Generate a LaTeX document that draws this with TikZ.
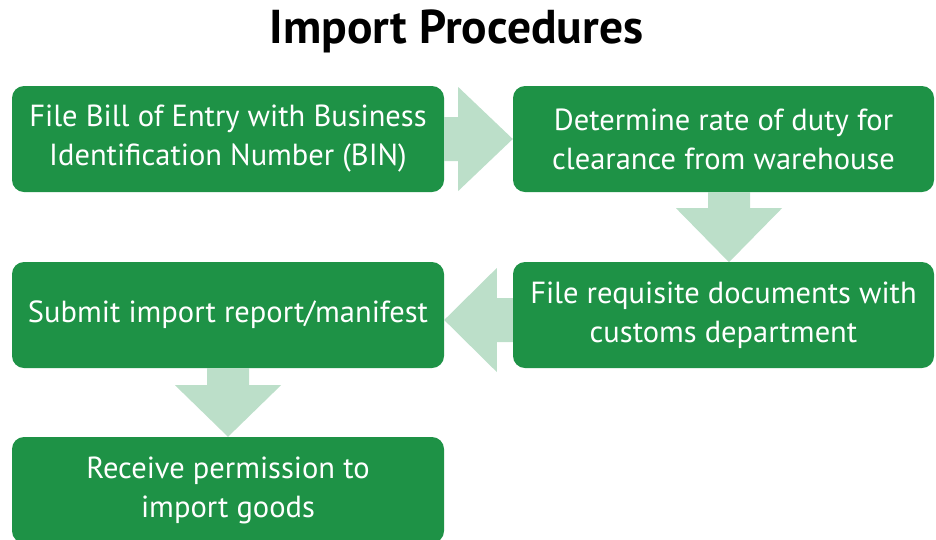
\documentclass[tikz,border=0pt]{standalone}
\usepackage{fontspec}
\setmainfont{PT Sans}
\usetikzlibrary{calc}
\definecolor{stepgreen}{RGB}{30,146,70}
\definecolor{flowgreen}{RGB}{188,223,201}
\begin{document}
\begin{tikzpicture}[x=1pt,y=-1pt,
  stepbox/.style={fill=stepgreen, rounded corners=12pt, text=white,
    align=center, inner sep=0pt, font=\fontsize{30.5}{39}\selectfont},
  flow/.style={fill=flowgreen, draw=none}]
\useasboundingbox (0,0) rectangle (936,539);
% title
\node (title) at (456.5,31) {\fontsize{47.5}{50}\selectfont\bfseries Import Procedures};
% procedure steps
\node[stepbox, minimum width=432pt, minimum height=106pt] (bill) at (228,139)
  {File Bill of Entry with Business\\Identification Number (BIN)};
\node[stepbox, minimum width=421pt, minimum height=106pt] (duty) at (723.5,139)
  {Determine rate of duty for\\clearance from warehouse};
\node[stepbox, minimum width=421pt, minimum height=106pt] (docs) at (723.5,315)
  {File requisite documents with\\customs department};
\node[stepbox, minimum width=432pt, minimum height=106pt] (report) at (228,315)
  {Submit import report/manifest};
\node[stepbox, minimum width=432pt, minimum height=106pt] (permit) at (228,490)
  {Receive permission to\\import goods};
% block arrows between the steps
\fill[flow] (bill.east) ++(0,-22) -- ++(14,0) -- ++(0,-30) -- (duty.west)
  -- ($(bill.east)+(14,52)$) -- ++(0,-30) -- ($(bill.east)+(0,22)$) -- cycle;
\fill[flow] ($(duty.south)+(5.5,0)$) ++(-21,0) -- ++(0,16) -- ++(-32,0)
  -- ($(duty.south)+(5.5,70)$) -- ++(53,-54) -- ++(-32,0) -- ++(0,-16) -- cycle;
\fill[flow] ($(docs.west)+(0,5)$) ++(0,-22) -- ++(-16,0) -- ++(0,-30)
  -- ($(report.east)+(0,5)$) -- ($(docs.west)+(-16,57)$) -- ++(0,-30)
  -- ($(docs.west)+(0,27)$) -- cycle;
\fill[flow] (report.south) ++(-21,0) -- ++(0,17) -- ++(-32,0)
  -- (permit.north) -- ($(report.south)+(53,17)$) -- ++(-32,0) -- ++(0,-17) -- cycle;
\end{tikzpicture}
\end{document}
